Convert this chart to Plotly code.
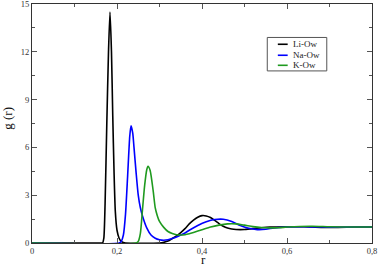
import plotly.graph_objects as go

# Li-Ow
li_r = [0.0, 0.16, 0.166, 0.169, 0.172, 0.176, 0.180, 0.1835, 0.187, 0.190, 0.193, 0.196, 0.200,
        0.205, 0.210, 0.215, 0.22, 0.30, 0.31, 0.32, 0.33, 0.34, 0.35, 0.36, 0.37, 0.38, 0.39,
        0.40, 0.41, 0.42, 0.43, 0.44, 0.45, 0.46, 0.47, 0.48, 0.49, 0.50, 0.52, 0.54, 0.56,
        0.60, 0.64, 0.68, 0.72, 0.76, 0.80]
li_g = [0.0, 0.0, 0.0, 0.3, 2.5, 7.5, 12.0, 14.5, 12.0, 8.0, 4.5, 2.0, 0.8,
        0.3, 0.1, 0.03, 0.0, 0.0, 0.04, 0.12, 0.28, 0.45, 0.65, 0.9, 1.2, 1.43, 1.62,
        1.72, 1.7, 1.6, 1.42, 1.22, 1.05, 0.94, 0.88, 0.85, 0.84, 0.85, 0.9, 0.96, 1.0,
        1.02, 1.02, 0.98, 0.98, 1.0, 1.0]

# Na-Ow
na_r = [0.0, 0.205, 0.21, 0.215, 0.22, 0.225, 0.23, 0.233, 0.237, 0.24, 0.245, 0.25, 0.255,
        0.26, 0.27, 0.28, 0.29, 0.30, 0.31, 0.32, 0.33, 0.34, 0.35, 0.36, 0.37, 0.39, 0.41,
        0.43, 0.45, 0.47, 0.49, 0.51, 0.53, 0.55, 0.57, 0.60, 0.64, 0.68, 0.72, 0.76, 0.80]
na_g = [0.0, 0.0, 0.1, 0.5, 1.8, 4.2, 6.7, 7.35, 6.9, 6.0, 4.4, 3.0, 2.2,
        1.7, 0.95, 0.5, 0.3, 0.2, 0.17, 0.2, 0.28, 0.38, 0.5, 0.63, 0.8, 1.1, 1.33,
        1.47, 1.49, 1.35, 1.1, 0.92, 0.84, 0.86, 0.95, 1.0, 1.02, 1.0, 0.99, 1.0, 1.0]

# K-Ow
k_r = [0.0, 0.245, 0.25, 0.255, 0.26, 0.265, 0.27, 0.273, 0.278, 0.285, 0.29, 0.295, 0.30,
       0.31, 0.32, 0.33, 0.34, 0.35, 0.36, 0.37, 0.38, 0.40, 0.42, 0.44, 0.46, 0.48, 0.50,
       0.52, 0.54, 0.56, 0.58, 0.60, 0.63, 0.66, 0.70, 0.75, 0.80]
k_g = [0.0, 0.0, 0.1, 0.6, 2.1, 3.6, 4.6, 4.82, 4.55, 3.3, 2.2, 1.7, 1.35,
       0.98, 0.72, 0.6, 0.52, 0.5, 0.52, 0.58, 0.66, 0.83, 1.0, 1.12, 1.2, 1.2, 1.12,
       1.03, 0.97, 0.95, 0.96, 1.0, 1.04, 1.05, 1.02, 1.0, 1.0]

names = ["Li-Ow", "Na-Ow", "K-Ow"]
colors = ["black", "#0000ff", "#1f9a1f"]

font_family = "Liberation Serif, Times New Roman, serif"

fig = go.Figure()
for name, r, g, c in zip(names, [li_r, na_r, k_r], [li_g, na_g, k_g], colors):
    fig.add_trace(go.Scatter(x=r, y=g, mode="lines", name=name, showlegend=False,
                             line=dict(color=c, width=1.6, shape="spline", smoothing=0.6)))

# compact legend box (paper coordinates)
leg_x0, leg_x1, leg_y0, leg_y1 = 0.692, 0.867, 0.720, 0.860
line_x0, line_x1, text_x = 0.723, 0.752, 0.763
leg_ys = [0.8315, 0.7855, 0.7435]
shapes = [dict(type="rect", xref="paper", yref="paper", x0=leg_x0, x1=leg_x1, y0=leg_y0, y1=leg_y1,
               line=dict(color="#555", width=1), fillcolor="white", layer="above")]
annotations = []
for name, c, ly in zip(names, colors, leg_ys):
    shapes.append(dict(type="line", xref="paper", yref="paper", x0=line_x0, x1=line_x1, y0=ly, y1=ly,
                       line=dict(color=c, width=1.6), layer="above"))
    annotations.append(dict(xref="paper", yref="paper", x=text_x, y=ly, text=name, showarrow=False,
                            xanchor="left", yanchor="middle",
                            font=dict(family=font_family, size=9, color="#222")))

annotations.append(dict(xref="paper", yref="paper", x=0.503, y=-0.067, text="r", showarrow=False,
                        xanchor="center", yanchor="middle", borderpad=0,
                        font=dict(family=font_family, size=13, color="#111")))
annotations.append(dict(xref="paper", yref="paper", x=-0.072, y=0.522, text="g (r)", showarrow=False,
                        xanchor="center", yanchor="middle", textangle=-90,
                        font=dict(family=font_family, size=13, color="#111")))

axis_common = dict(showline=True, linecolor="#333", linewidth=1, mirror="ticks",
                   ticks="inside", ticklen=5, tickcolor="#555", tickwidth=1,
                   showgrid=False, zeroline=False, automargin=False,
                   ticklabeloverflow="allow",
                   tickfont=dict(family=font_family, size=8.5, color="#333"))

fig.update_layout(
    width=379, height=266,
    margin=dict(l=32, r=7, t=4, b=23),
    paper_bgcolor="white", plot_bgcolor="white",
    separators=",.",
    font=dict(family=font_family, color="#222"),
    showlegend=False,
    shapes=shapes,
    annotations=annotations,
    xaxis=dict(range=[0, 0.8], dtick=0.2, tick0=0,
               minor=dict(dtick=0.1, ticks="inside", ticklen=3, tickcolor="#555"),
               **axis_common),
    yaxis=dict(range=[0, 15], dtick=3, tick0=0,
               minor=dict(dtick=1.5, ticks="inside", ticklen=3, tickcolor="#555"),
               **axis_common),
)

fig.write_html("out.html", config={"displayModeBar": False},
               post_script="document.body.style.margin='0';document.body.style.overflow='hidden';")
